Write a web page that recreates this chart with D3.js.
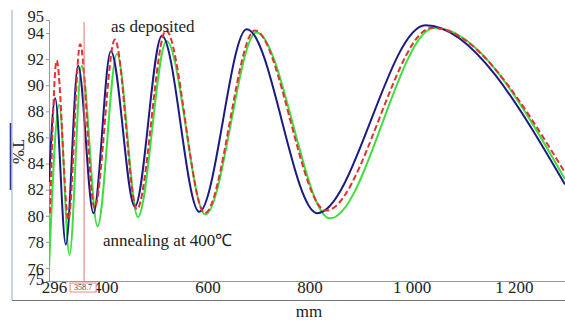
<!DOCTYPE html>
<html>
<head>
<meta charset="utf-8">
<script src="https://cdn.jsdelivr.net/npm/d3@7"></script>
<style>
html,body{margin:0;padding:0;background:#fff;}
svg{display:block;}
</style>
</head>
<body>
<svg id="chart" width="565" height="322"></svg>
<script>
// ---- data (wavelength nm, transmittance %) ----
const yTicks = [75, 76, 78, 80, 82, 84, 86, 88, 90, 92, 94, 95];
const xTicks = [296, 400, 600, 800, 1000, 1200];
const xTickLabels = ["296", "400", "600", "800", "1 000", "1 200"];
const cursorValue = 358.7;

const blueX = [290, 302, 323, 347, 377, 411, 458, 511, 584, 677, 815, 1027, 1300];
const blueY = [82.6, 89.0, 77.8, 91.5, 80.2, 92.6, 80.7, 93.8, 80.3, 94.3, 80.2, 94.6, 82.4];

const redX = [292, 305, 328, 351, 379, 419, 462, 519, 595, 693, 832, 1040, 1300];
const redY = [80.2, 91.9, 79.7, 93.15, 80.6, 93.5, 80.5, 94.2, 80.2, 94.2, 80.4, 94.4, 83.3];

const greenX = [290, 310, 330, 354, 385, 423, 464, 520, 596, 696, 840, 1045, 1300];
const greenY = [75.9, 88.5, 77.0, 91.5, 79.2, 92.4, 79.9, 93.4, 80.1, 94.05, 79.8, 94.4, 82.8];

const svg = d3.select("#chart");
const font = "'Liberation Serif','Times New Roman',serif";

const x = d3.scaleLinear().domain([290, 1300]).range([49, 565]);
const y = d3.scaleLinear().domain([75, 95]).range([281, 20]);

// frame
svg.append("line").attr("x1", 12).attr("x2", 12).attr("y1", 10).attr("y2", 300)
  .attr("stroke", "#b9c6dc").attr("stroke-width", 1.5);
svg.append("line").attr("x1", 12).attr("x2", 565).attr("y1", 300.5).attr("y2", 300.5)
  .attr("stroke", "#777").attr("stroke-width", 1.2);
svg.append("line").attr("x1", 10.5).attr("x2", 10.5).attr("y1", 123).attr("y2", 190)
  .attr("stroke", "#2a3a8a").attr("stroke-width", 1.6);

// axes
const yAxis = d3.axisLeft(y).tickValues(yTicks).tickSize(3).tickFormat(d3.format("d"));
const gy = svg.append("g").attr("transform", "translate(49,0)").call(yAxis);
gy.select(".domain").attr("stroke", "#999");
gy.selectAll(".tick line").attr("stroke", "#999");
gy.selectAll(".tick text").attr("font-family", font).attr("font-size", 16.5).attr("fill", "#222").attr("x", -5)
  .attr("dy", d => d === 95 ? "0.1em" : d === 94 ? "0.35em" : d === 76 ? "0.4em" : d === 75 ? "0.2em" : "0.32em");

const xAxis = d3.axisBottom(x).tickValues(xTicks).tickSize(0).tickFormat((d, i) => xTickLabels[i]);
const gx = svg.append("g").attr("transform", "translate(0,281)").call(xAxis);
gx.select(".domain").attr("stroke", "#999");
gx.selectAll(".tick text").attr("font-family", font).attr("font-size", 17).attr("fill", "#222").attr("dy", "0.5em")
  .attr("dx", d => d === 296 ? "2" : "0");

// clip
svg.append("clipPath").attr("id", "clip").append("rect")
  .attr("x", 49).attr("y", 0).attr("width", 516).attr("height", 281);

const line = d3.line().x(d => x(d[0])).y(d => y(d[1])).curve(d3.curveMonotoneX);
const g = svg.append("g").attr("clip-path", "url(#clip)");

g.append("path").datum(d3.zip(greenX, greenY)).attr("d", line)
  .attr("fill", "none").attr("stroke", "#3ce03c").attr("stroke-width", 2);
g.append("path").datum(d3.zip(blueX, blueY)).attr("d", line)
  .attr("fill", "none").attr("stroke", "#1c1c80").attr("stroke-width", 2);
g.append("path").datum(d3.zip(redX, redY)).attr("d", line)
  .attr("fill", "none").attr("stroke", "#e63030").attr("stroke-width", 2)
  .attr("stroke-dasharray", "6,3");

// cursor line
svg.append("line").attr("x1", x(cursorValue)).attr("x2", x(cursorValue))
  .attr("y1", 22).attr("y2", 281).attr("stroke", "#ee7070").attr("stroke-width", 1);
svg.append("rect").attr("x", x(cursorValue) - 14).attr("y", 283).attr("width", 26).attr("height", 9)
  .attr("fill", "#fff").attr("stroke", "#e88").attr("stroke-width", 1);
svg.append("text").attr("x", x(cursorValue) - 1).attr("y", 288).attr("text-anchor", "middle")
  .attr("dominant-baseline", "middle").attr("font-family", font).attr("font-size", 8)
  .attr("fill", "#444").text(String(cursorValue));

// annotations
svg.append("text").attr("x", 111).attr("y", 32).attr("font-family", font).attr("font-size", 17)
  .attr("fill", "#222").text("as deposited");
svg.append("text").attr("x", 103).attr("y", 246).attr("font-family", font).attr("font-size", 17)
  .attr("fill", "#222").text("annealing at 400℃");

// axis titles
svg.append("text").attr("x", 309).attr("y", 317).attr("text-anchor", "middle")
  .attr("font-family", font).attr("font-size", 17).attr("fill", "#222").text("mm");
svg.append("text").attr("transform", "translate(17,152) rotate(90)").attr("text-anchor", "middle")
  .attr("dominant-baseline", "middle").attr("font-family", font).attr("font-size", 17)
  .attr("fill", "#222").text("T%");
</script>
</body>
</html>
